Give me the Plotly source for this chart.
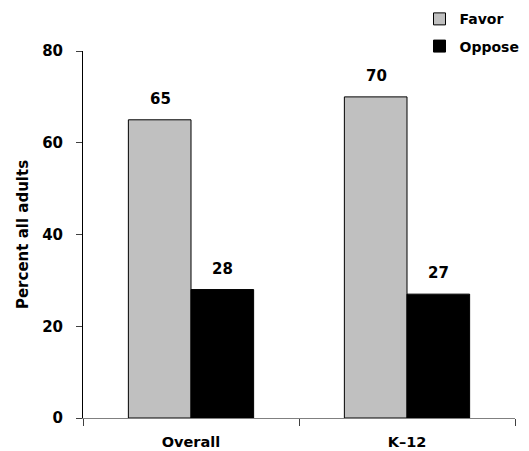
import plotly.graph_objects as go

categories = ["Overall", "K\u201312"]
favor = [65, 70]
oppose = [28, 27]
series_names = ["Favor", "Oppose"]
y_ticks = [0, 20, 40, 60, 80]

FONT = "DejaVu Sans"

fig = go.Figure()
fig.add_trace(go.Bar(
    x=categories, y=favor, name=series_names[0],
    marker=dict(color="#C0C0C0", line=dict(color="black", width=1)),
    legendgroup="a",
))
fig.add_trace(go.Bar(
    x=categories, y=oppose, name=series_names[1],
    marker=dict(color="black", line=dict(color="black", width=1)),
    legendgroup="b",
))

annotations = []
for vals, shift in ((favor, -31), (oppose, 31)):
    for c, v in zip(categories, vals):
        annotations.append(dict(
            x=c, y=v, xref="x", yref="y", text=f"<b>{v}</b>",
            showarrow=False, xshift=shift, yshift=10, yanchor="bottom",
            font=dict(family=FONT, size=15, color="black"),
        ))

# page body adds an 8px offset, so the figure is drawn 8px smaller
fig.update_layout(
    width=521, height=443,
    margin=dict(l=75, r=14, t=43, b=33, autoexpand=False),
    paper_bgcolor="white", plot_bgcolor="white",
    barmode="group", bargap=0.42, bargroupgap=0,
    font=dict(family=FONT, size=15, color="black"),
    showlegend=True,
    legend=dict(
        x=1.022, y=1.13, xanchor="right", yanchor="top",
        font=dict(family=FONT, size=14, color="black", weight="bold"),
        tracegroupgap=6, bgcolor="rgba(0,0,0,0)",
    ),
    annotations=annotations,
    xaxis=dict(
        showline=True, linecolor="#808080", linewidth=1, automargin=False,
        ticks="outside", tickson="boundaries", ticklen=7, tickcolor="#404040",
        tickfont=dict(family=FONT, size=14.5, color="black", weight="bold"),
        ticklabelstandoff=11, showgrid=False,
    ),
    yaxis=dict(
        range=[0, 80], tickvals=y_ticks, automargin=False,
        showline=True, linecolor="black", linewidth=1,
        ticks="outside", ticklen=6, tickcolor="#404040",
        tickfont=dict(family=FONT, size=15, color="black", weight="bold"),
        ticklabelstandoff=10, showgrid=False, zeroline=False,
        title=dict(text="Percent all adults", standoff=9,
                   font=dict(family=FONT, size=15, color="black", weight="bold")),
    ),
)

fig.write_html("out.html")
